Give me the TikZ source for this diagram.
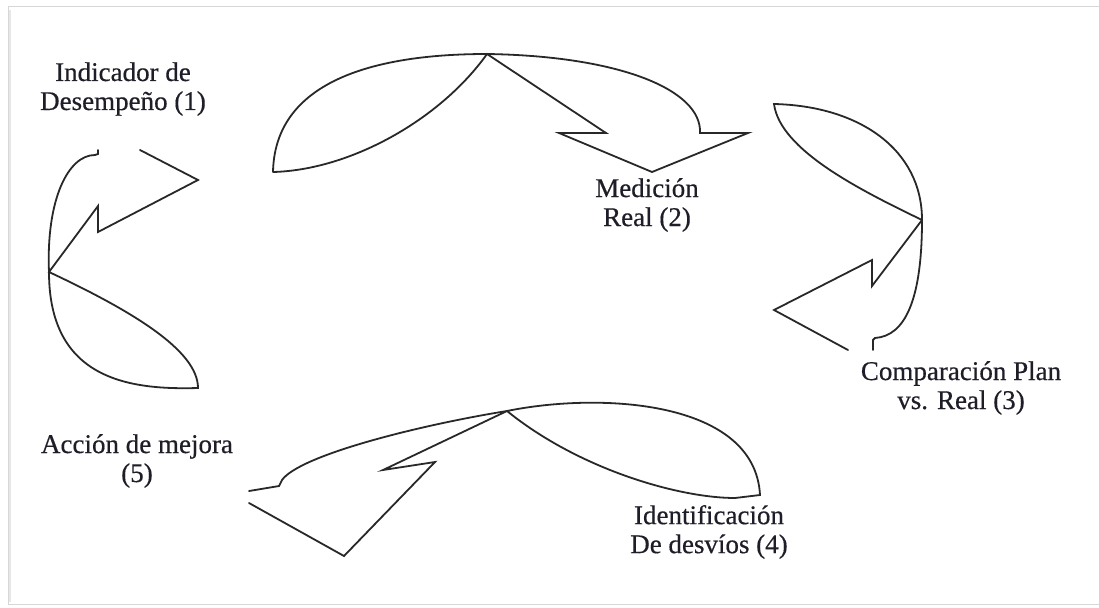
\documentclass[tikz,border=0pt]{standalone}
\usepackage{fontspec}
\setmainfont{Liberation Serif}
\newfontfamily\labelfont[FakeBold=0.5]{Liberation Serif}
\definecolor{arrowgrey}{RGB}{40,40,40}
\definecolor{labelgrey}{RGB}{30,30,40}
\definecolor{framegrey}{RGB}{215,215,215}
\begin{document}
\begin{tikzpicture}[x=1pt,y=-1pt,
  blockarrow/.style={draw=arrowgrey, line width=1.8pt, line join=miter, line cap=round},
  lbl/.style={font=\labelfont\fontsize{27}{29}\selectfont, text=labelgrey, align=center, inner sep=0pt}]
  % canvas and frame
  \fill[white] (0,0) rectangle (1099,607);
  \useasboundingbox (0,0) rectangle (1099,607);
  \draw[framegrey, line width=1pt] (1099,7) -- (8,7) -- (8,604) -- (1099,604);
  \draw[framegrey!60, line width=2pt] (10,10) -- (10,602);

  % step labels
  \node[lbl] (l1) at (123,89)  {Indicador de\\Desempeño (1)};
  \node[lbl] (l2) at (647,205) {Medición\\Real (2)};
  \node[lbl] (l3) at (961,388) {Comparación Plan\\vs. Real (3)};
  \node[lbl] (l4) at (709,532) {Identificación\\De desvíos (4)};
  \node[lbl] (l5) at (137,461) {Acción de mejora\\(5)};

  % curved arrow 1 -> 2 (top)
  \draw[blockarrow] (273,172) .. controls (275,70) and (400,54) .. (487,54)
    .. controls (620,56) and (702,90) .. (700,133) -- (748,133) -- (652,172)
    -- (559,133) -- (606,133) -- (487,54)
    .. controls (440,120) and (350,170) .. (273,172);

  % curved arrow 2 -> 3 (right)
  \draw[blockarrow] (922,220) .. controls (860,190) and (780,150) .. (774,104)
    .. controls (860,106) and (922,150) .. (922,220)
    .. controls (922,300) and (905,336) .. (875,338) -- (873,340) -- (873,350);
  \draw[blockarrow] (922,220) -- (872,286) -- (872,260) -- (774,310) -- (848,350);

  % curved arrow 3 -> 4 (bottom)
  \draw[blockarrow] (249,491) -- (279,486) -- (282,480)
    .. controls (300,455) and (420,425) .. (507,411)
    .. controls (600,392) and (755,400) .. (760,495) -- (735,498)
    .. controls (680,498) and (580,470) .. (507,411);
  \draw[blockarrow] (507,411) -- (383,470) -- (435,462) -- (344,556) -- (249,503);

  % curved arrow 4 -> 1 (left)
  \draw[blockarrow] (98,150) -- (98,154) -- (95,155)
    .. controls (68,155) and (46,200) .. (49,272)
    .. controls (49,380) and (130,390) .. (198,388)
    .. controls (198,350) and (130,310) .. (49,272)
    -- (98,206) -- (98,232) -- (198,180) -- (140,150);
\end{tikzpicture}
\end{document}
